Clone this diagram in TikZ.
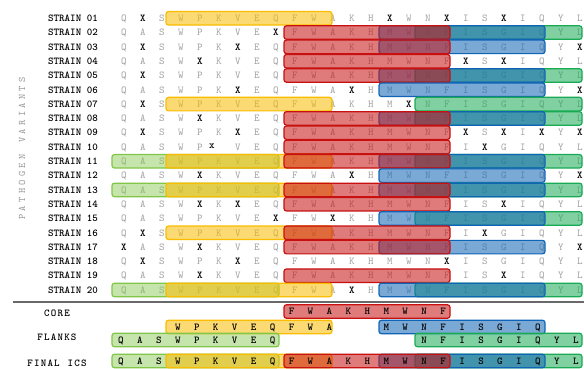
\documentclass[tikz,border=0pt]{standalone}
\usepackage{fontspec}
\definecolor{cRed}{RGB}{200,16,16}
\definecolor{cBlue}{RGB}{16,100,182}
\definecolor{cGreen}{RGB}{24,170,84}
\definecolor{cYel}{RGB}{250,188,0}
\definecolor{cLG}{RGB}{130,198,72}
\definecolor{cGray}{RGB}{160,160,160}
\definecolor{cVert}{RGB}{150,150,150}
\definecolor{cSep}{RGB}{105,105,105}
\protected\def\xx{\textcolor{black}{\bfseries X}}
\protected\def\nx{}
\def\spaceout#1#2{\def\spw{#1}\spaceoutA#2\relax}
\def\spaceoutA#1{\ifx\relax#1\else\makebox[\spw][c]{#1}\expandafter\spaceoutA\fi}
\newcommand\bxrange[3]{\expandafter\def\csname bxl#1\endcsname{#2}\expandafter\def\csname bxr#1\endcsname{#3}}
\bxrange{G}{112}{279}
\bxrange{Y}{166}{332}
\bxrange{R}{284}{450}
\bxrange{B}{379}{545}
\bxrange{N}{415}{582}
\newcommand\hlbox[1]{\edef\bxa{\csname bxl#1\endcsname}\edef\bxb{\csname bxr#1\endcsname}%
  \draw[box#1] (\bxa,\ry-6.75) rectangle (\bxb,\ry+6.75);}
\def\baseseq{Q,A,S,W,P,K,V,E,Q,F,W,A,K,H,M,W,N,F,I,S,G,I,Q,Y,L}
\newcommand\monofont{\fontsize{10.5}{12}\selectfont\ttfamily}
\newcommand\strain[3]{%
  \pgfmathsetmacro\ry{18.3+14.3*(#1-1)}
  \node[lab] (lab#1) at (73,\ry) {STRAIN \ifnum#1<10 0\fi#1};
  \foreach \ch [count=\c] in {#2} {
    \pgfmathsetmacro\cx{124+19*(\c-1)}
    \node[seq] (s#1-\c) at (\cx,\ry) {\ch};
  }
  #3
}
\newcommand\botletters[3]{%
  \foreach \ch [count=\c] in \baseseq {
    \ifnum\c<#2\relax\else\ifnum\c>#3\relax\else
      \pgfmathsetmacro\cx{121+18.95*(\c-1)}
      \node[bseq] (#1-\c) at (\cx,\ry) {\ch};
    \fi\fi
  }}
\begin{document}
\begin{tikzpicture}[x=1pt,y=-1pt,
  seq/.style={inner sep=0pt, text height=6.4pt, text depth=0pt, font=\monofont, text=cGray},
  bseq/.style={inner sep=0pt, text height=6.4pt, text depth=0pt, font=\monofont\bfseries, text=black},
  lab/.style={inner sep=0pt, text height=6.4pt, text depth=0pt, font=\monofont\bfseries, text=black},
  vlab/.style={inner sep=0pt, text height=6.2pt, text depth=0pt, font=\fontsize{10}{12}\selectfont\ttfamily, text=cVert},
  boxbase/.style={line width=1.2pt, rounded corners=2.5pt, fill opacity=0.55, draw opacity=1},
  boxR/.style={boxbase, draw=cRed, fill=cRed},
  boxB/.style={boxbase, draw=cBlue, fill=cBlue},
  boxN/.style={boxbase, draw=cGreen, fill=cGreen},
  boxY/.style={boxbase, draw=cYel, fill=cYel},
  boxG/.style={boxbase, draw=cLG, fill=cLG, fill opacity=0.45},
  sepline/.style={line width=1.2pt, draw=cSep}
]
\fill[white] (0,0) rectangle (584,369);
\useasboundingbox (0,0) rectangle (584,369);

\node[vlab, rotate=90] (vlabel) at (22,148.5) {\spaceout{8.56pt}{PATHOGEN~VARIANTS}};

\strain{1}{Q,\xx,S,W,P,K,V,E,Q,F,W,A,K,H,\xx,W,N,\xx,I,S,\xx,I,Q,Y,L}{\hlbox{Y}}
\strain{2}{Q,A,S,W,P,K,V,E,\xx,F,W,A,K,H,M,W,N,F,I,S,G,I,Q,Y,L}{\hlbox{N}\hlbox{B}\hlbox{R}}
\strain{3}{Q,\xx,S,W,P,K,\xx,E,Q,F,W,A,K,H,M,W,N,F,I,S,G,I,Q,Y,\xx}{\hlbox{B}\hlbox{R}}
\strain{4}{Q,A,S,W,\xx,K,V,E,Q,F,W,A,K,H,M,W,N,F,\xx,S,\xx,I,Q,Y,L}{\hlbox{R}}
\strain{5}{Q,\xx,S,W,P,K,V,E,Q,F,W,A,K,H,M,W,N,F,I,S,G,I,Q,Y,L}{\hlbox{N}\hlbox{B}\hlbox{R}}
\strain{6}{Q,A,S,W,P,K,\xx,E,Q,F,W,A,\xx,H,M,W,N,F,I,S,G,I,Q,Y,\xx}{\hlbox{B}}
\strain{7}{Q,\xx,S,W,P,K,V,E,Q,F,W,A,K,H,M,\xx,N,F,I,S,G,I,Q,Y,L}{\hlbox{Y}\hlbox{N}}
\strain{8}{Q,A,S,W,\xx,K,V,E,Q,F,W,A,K,H,M,W,N,F,I,S,G,I,Q,Y,L}{\hlbox{N}\hlbox{B}\hlbox{R}}
\strain{9}{Q,\xx,S,W,P,K,\xx,E,Q,F,W,A,K,H,M,W,N,F,\xx,S,\xx,I,\xx,Y,\xx}{\hlbox{R}}
\strain{10}{Q,A,S,W,P,\nx,V,E,Q,F,W,A,K,H,M,W,N,F,I,\xx,G,I,Q,Y,L}{\hlbox{R}}
\node[seq] (s10-x) at (212,145) {\textcolor{black}{\bfseries x}};
\strain{11}{Q,A,S,W,P,K,V,E,Q,F,W,A,K,H,M,W,N,F,I,S,G,I,Q,Y,L}{\hlbox{G}\hlbox{Y}\hlbox{N}\hlbox{B}\hlbox{R}}
\strain{12}{Q,A,S,W,\xx,K,V,E,Q,F,W,A,\xx,H,M,W,N,F,I,S,G,I,Q,Y,\xx}{\hlbox{B}}
\strain{13}{Q,A,S,W,P,K,V,E,Q,F,W,A,K,H,M,W,N,F,I,S,G,I,Q,Y,L}{\hlbox{G}\hlbox{Y}\hlbox{N}\hlbox{B}\hlbox{R}}
\strain{14}{Q,A,S,W,\xx,K,\xx,E,Q,F,W,A,K,H,M,W,N,F,I,S,\xx,I,Q,Y,L}{\hlbox{R}}
\strain{15}{Q,A,S,W,P,K,V,E,\xx,F,W,\xx,K,H,M,W,N,F,I,S,G,I,Q,Y,L}{\hlbox{N}\hlbox{B}}
\strain{16}{Q,\xx,S,W,P,K,V,E,Q,F,W,A,K,H,M,W,N,F,I,\xx,G,I,Q,Y,L}{\hlbox{Y}\hlbox{R}}
\strain{17}{\xx,A,S,W,\xx,K,V,E,Q,F,W,A,K,H,M,W,N,F,I,S,G,I,Q,Y,\xx}{\hlbox{B}\hlbox{R}}
\strain{18}{Q,\xx,S,W,P,K,\xx,E,Q,F,W,A,K,H,M,W,N,\xx,I,S,G,I,Q,Y,L}{}
\strain{19}{Q,A,S,W,\xx,K,V,E,Q,F,W,A,K,H,M,W,N,F,I,S,\xx,I,Q,Y,L}{\hlbox{R}}
\strain{20}{Q,A,S,W,P,K,V,E,Q,F,W,A,\xx,H,M,W,N,F,I,S,G,I,Q,Y,L}{\hlbox{G}\hlbox{Y}\hlbox{N}\hlbox{B}}

\coordinate (sepL) at (13,302);
\coordinate (sepR) at (584,302);
\draw[sepline] (sepL) -- (sepR);

\node[lab] (labcore) at (57,313.5) {\spaceout{6.7pt}{CORE}};
\node[lab] (labflanks) at (57,337.5) {\spaceout{6.7pt}{FLANKS}};
\node[lab] (labfinal) at (57,363.5) {\spaceout{6.7pt}{FINAL~ICS}};

\def\ry{311.5}
\hlbox{R}
\botletters{core}{10}{18}

\def\ry{327}
\hlbox{Y}\hlbox{B}
\botletters{fa}{4}{12}
\botletters{fb}{15}{23}

\def\ry{340}
\hlbox{G}\hlbox{N}
\botletters{fc}{1}{9}
\botletters{fd}{17}{25}

\def\ry{361}
\hlbox{G}\hlbox{Y}\hlbox{N}\hlbox{B}\hlbox{R}
\botletters{fin}{1}{25}
\end{tikzpicture}
\end{document}
